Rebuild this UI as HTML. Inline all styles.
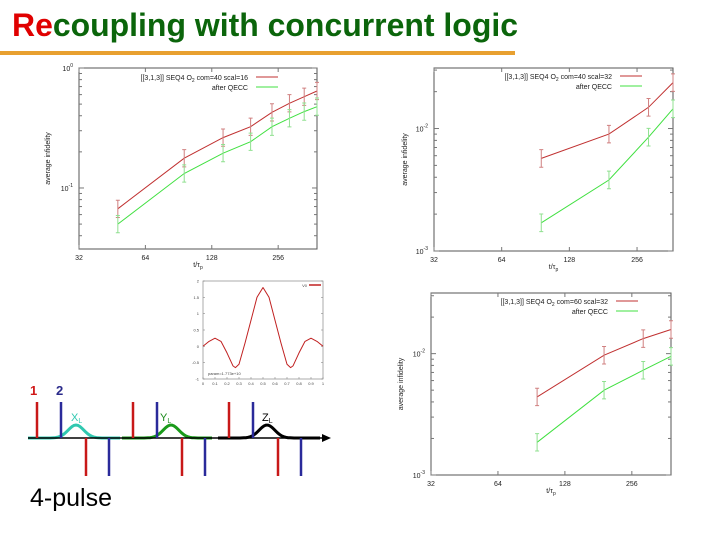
<!DOCTYPE html>
<html><head><meta charset="utf-8">
<style>
body{margin:0;background:#fff;}
svg{display:block;font-family:"Liberation Sans",Arial,sans-serif;}
</style></head>
<body>
<svg id="s" width="720" height="540" viewBox="0 0 720 540" xmlns="http://www.w3.org/2000/svg">
<text x="12" y="36" font-size="32" font-weight="bold" textLength="506" lengthAdjust="spacingAndGlyphs" fill="#0b650b"><tspan fill="#e00000">Re</tspan>coupling with concurrent logic</text>
<rect x="0" y="51" width="515" height="4" fill="#e8a030"/>
<g id="charts"></g>
<g id="pulse"></g>
<text x="30" y="506" font-size="25" fill="#000">4-pulse</text>
</svg>
<script>
// Chart 1 data (com=40 scal=16)
const c1x=[48,96,144,192,240,288,336,384];
const c1red=[0.067,0.177,0.263,0.324,0.427,0.508,0.576,0.643];
const c1green=[0.050,0.132,0.195,0.243,0.324,0.381,0.433,0.476];
// Chart 2 data (com=40 scal=32)
const c2x=[96,192,288,370];
const c2red=[0.0057,0.0090,0.0149,0.0237];
const c2green=[0.0017,0.0038,0.0085,0.0145];
// Chart 3 data (com=60 scal=32)
const c3x=[96,192,288,384];
const c3red=[0.0044,0.0097,0.0133,0.0158];
const c3green=[0.00186,0.0050,0.0073,0.0095];
const xTicks=[32,64,128,256];
// Small pulse-shape chart
const pX=[0,0.05,0.1,0.15,0.2,0.25,0.27,0.3,0.35,0.4,0.45,0.5,0.55,0.6,0.65,0.7,0.73,0.75,0.8,0.85,0.9,0.95,1];
const pY=[0,0.15,0.25,0.15,-0.2,-0.6,-0.65,-0.55,0.1,0.8,1.5,1.8,1.5,0.8,0.1,-0.55,-0.65,-0.6,-0.2,0.15,0.25,0.15,0];
const pYTicks=[2,1.5,1,0.5,0,-0.5,-1];
const pXTicks=[0,0.1,0.2,0.3,0.4,0.5,0.6,0.7,0.8,0.9,1];

const NS="http://www.w3.org/2000/svg";
function mk(tag,attrs,parent){const e=document.createElementNS(NS,tag);for(const k in attrs)e.setAttribute(k,attrs[k]);parent.appendChild(e);return e;}
const root=document.getElementById('charts');

function logChart(cfg){
  const g=mk('g',{},root);
  
  
  const {L,R,T,B,xmin,xmax,ymin,ymax}=cfg;
  const sx=v=>L+(Math.log2(v)-Math.log2(xmin))/(Math.log2(xmax)-Math.log2(xmin))*(R-L);
  const sy=v=>B-(Math.log10(v)-Math.log10(ymin))/(Math.log10(ymax)-Math.log10(ymin))*(B-T);
  const box=mk('rect',{x:L,y:T,width:R-L,height:B-T,fill:'none',stroke:'#555','stroke-width':1},g);
  
  
  const d0=Math.floor(Math.log10(ymin)),d1=Math.ceil(Math.log10(ymax));
  for(let d=d0;d<=d1;d++){for(let m=1;m<10;m++){const v=m*Math.pow(10,d);if(v<ymin*0.999||v>ymax*1.001)continue;const y=sy(v);const len=m==1?5:3;
    mk('line',{x1:L,x2:L+len,y1:y,y2:y,stroke:'#777'},g);mk('line',{x1:R,x2:R-len,y1:y,y2:y,stroke:'#777'},g);
    if(m==1){const t=mk('text',{x:L-6,y:y+3,'font-size':7,'text-anchor':'end',fill:'#222'},g);t.textContent='10';
      
      const sp=mk('tspan',{dy:-4,'font-size':5},t);sp.textContent=String(d);}}}
  xTicks.forEach(v=>{const x=sx(v);mk('line',{x1:x,x2:x,y1:B,y2:B-4,stroke:'#777'},g);mk('line',{x1:x,x2:x,y1:T,y2:T+4,stroke:'#777'},g);
    const t=mk('text',{x:x,y:B+11,'font-size':7,'text-anchor':'middle',fill:'#222'},g);t.textContent=String(v);
    });
  const xl=mk('text',{x:(L+R)/2,y:B+18,'font-size':7,'text-anchor':'middle',fill:'#222'},g);xl.textContent='t/τ';
  
  const xs=mk('tspan',{dy:2,'font-size':5},xl);xs.textContent='p';
  const yl=mk('text',{x:0,y:0,'font-size':7,'text-anchor':'middle',fill:'#222',transform:`translate(${cfg.yl},${(T+B)/2}) rotate(-90)`},g);yl.textContent='average infidelity';
  
  const series=[[cfg.red,'#c03030','#d08080',cfg.label],[cfg.green,'#40e040','#90e090','after QECC']];
  series.forEach((s,i)=>{
    const pts=cfg.x.map((xv,j)=>sx(xv).toFixed(1)+','+sy(s[0][j]).toFixed(1)).join(' ');
    const pl=mk('polyline',{points:pts,fill:'none',stroke:s[1],'stroke-width':1},g);
    
    cfg.x.forEach((xv,j)=>{const x=sx(xv),v=s[0][j];const y1=sy(v*1.18),y2=sy(v/1.18);
      const eb=mk('path',{d:`M${x},${y1}V${y2}M${x-2},${y1}h4M${x-2},${y2}h4`,stroke:s[2],'stroke-width':1,fill:'none'},g);
      });
    const ly=cfg.legY+i*10;
    const lt=mk('text',{x:cfg.legX,y:ly+3,'font-size':7,'text-anchor':'end',fill:'#222'},g);
    
    if(i==0){lt.textContent=s[3]+' O';const sp=mk('tspan',{dy:2,'font-size':5},lt);sp.textContent='2';const sp2=mk('tspan',{dy:-2},lt);sp2.textContent=' '+cfg.tail;}
    else lt.textContent=s[3];
    mk('line',{x1:cfg.legX+8,x2:cfg.legX+30,y1:ly,y2:ly,stroke:s[1]},g);
  });
}
logChart({name:'chart-scal16',L:79,R:317,T:68,B:249,xmin:32,xmax:384,ymin:0.031,ymax:1,x:c1x,red:c1red,green:c1green,label:'[[3,1,3]] SEQ4',tail:'com=40 scal=16',legX:248,legY:77,yl:50});
logChart({name:'chart-com40-scal32',L:434,R:673,T:68,B:251,xmin:32,xmax:370,ymin:0.001,ymax:0.0312,x:c2x,red:c2red,green:c2green,label:'[[3,1,3]] SEQ4',tail:'com=40 scal=32',legX:612,legY:76,yl:407});
logChart({name:'chart-com60-scal32',L:431,R:671,T:293,B:475,xmin:32,xmax:384,ymin:0.001,ymax:0.0316,x:c3x,red:c3red,green:c3green,label:'[[3,1,3]] SEQ4',tail:'com=60 scal=32',legX:608,legY:301,yl:403});

(function(){
  const g=mk('g',{},root);
  
  
  const L=203,R=323,T=281,B=379;
  const sx=v=>L+v*(R-L), sy=v=>B-(v+1)/3*(B-T);
  mk('rect',{x:L,y:T,width:R-L,height:B-T,fill:'none',stroke:'#888','stroke-width':0.7},g);
  pYTicks.forEach(v=>{const y=sy(v);mk('line',{x1:L,x2:L+2,y1:y,y2:y,stroke:'#888','stroke-width':0.6},g);mk('line',{x1:R,x2:R-2,y1:y,y2:y,stroke:'#888','stroke-width':0.6},g);
    const t=mk('text',{x:L-4,y:y+1.5,'font-size':4,'text-anchor':'end',fill:'#444'},g);t.textContent=String(v);});
  pXTicks.forEach(v=>{const x=sx(v);mk('line',{x1:x,x2:x,y1:B,y2:B-2,stroke:'#888','stroke-width':0.6},g);
    const t=mk('text',{x:x,y:B+6,'font-size':4,'text-anchor':'middle',fill:'#444'},g);t.textContent=String(v);});
  const pts=pX.map((x,i)=>sx(x).toFixed(1)+','+sy(pY[i]).toFixed(1)).join(' ');
  const pl=mk('polyline',{points:pts,fill:'none',stroke:'#c02020','stroke-width':1,'stroke-linejoin':'round'},g);
  
  mk('line',{x1:309,x2:321,y1:285,y2:285,stroke:'#c02020','stroke-width':1.5},g);
  const lt=mk('text',{x:307,y:287,'font-size':4,'text-anchor':'end',fill:'#444'},g);lt.textContent='V0';
  const pm=mk('text',{x:208,y:375,'font-size':4,fill:'#444'},g);pm.textContent='param=1.773e+10';
})();

(function(){
  const g=document.getElementById('pulse');
  const Y=438;
  const bumps=[[28,120,76,'#30c8b0'],[122,213,171,'#1a9a1a'],[218,320,267,'#000']];
  bumps.forEach((b,i)=>{
    let d=`M${b[0]},${Y}`;
    for(let x=b[0];x<=b[1];x+=2){const dx=(x-b[2])/11;d+=`L${x},${(Y-13*Math.exp(-dx*dx)).toFixed(1)}`;}
    const p=mk('path',{d:d,fill:'none',stroke:b[3],'stroke-width':3},g);
    
  });
  mk('line',{x1:28,x2:326,y1:Y,y2:Y,stroke:'#000','stroke-width':1.5},g);
  mk('path',{d:`M322,${Y-4}L331,${Y}L322,${Y+4}Z`,fill:'#000'},g);
  const groups=[37,133,229];
  groups.forEach(x0=>{
    mk('line',{x1:x0,x2:x0,y1:402,y2:Y,stroke:'#c81818','stroke-width':2.5},g);
    mk('line',{x1:x0+24,x2:x0+24,y1:402,y2:Y,stroke:'#2a2a9a','stroke-width':2.5},g);
    mk('line',{x1:x0+49,x2:x0+49,y1:Y,y2:476,stroke:'#c81818','stroke-width':2.5},g);
    mk('line',{x1:x0+72,x2:x0+72,y1:Y,y2:476,stroke:'#2a2a9a','stroke-width':2.5},g);
  });
  const labs=[[30,395,'1','#d01818'],[56,395,'2','#2a2a8a']];
  labs.forEach(l=>{const t=mk('text',{x:l[0],y:l[1],'font-size':13,'font-weight':'bold',fill:l[3]},g);t.textContent=l[2];});
  const sl=[[71,'X','#30c8b0'],[160,'Y','#1a8a1a'],[262,'Z','#000']];
  sl.forEach(l=>{const t=mk('text',{x:l[0],y:421,'font-size':11,fill:l[2]},g);t.textContent=l[1];
    
    const s=mk('tspan',{dy:2,'font-size':7},t);s.textContent='L';});
})();
</script>
</body></html>
